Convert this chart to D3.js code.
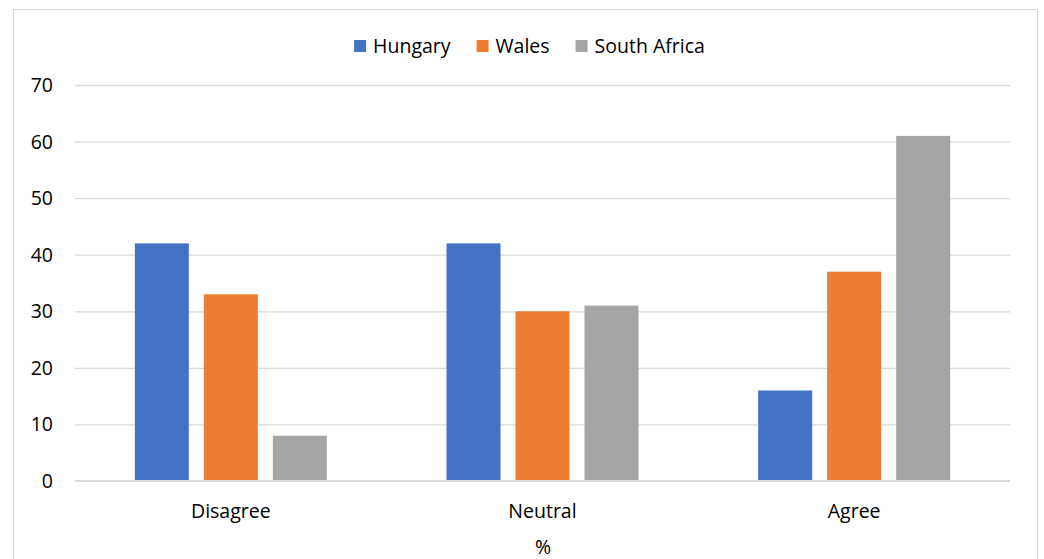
<!DOCTYPE html>
<html>
<head>
<meta charset="utf-8">
<script src="https://cdnjs.cloudflare.com/ajax/libs/d3/7.8.5/d3.min.js"></script>
<style>
  html, body { margin: 0; padding: 0; background: #ffffff; }
  svg { display: block; font-family: "Open Sans", sans-serif; }
</style>
</head>
<body>
<svg id="chart" width="1044" height="559"></svg>
<script>
// Response categories and the share (%) per country
const categories = ["Disagree", "Neutral", "Agree"];
const seriesNames = ["Hungary", "Wales", "South Africa"];
const hungary = [42, 42, 16];
const wales = [33, 30, 37];
const southAfrica = [8, 31, 61];
const yTicks = [0, 10, 20, 30, 40, 50, 60, 70];
const axisTitle = "%";

const seriesValues = [hungary, wales, southAfrica];
const colors = ["#4472c4", "#ed7d31", "#a5a5a5"];

const svg = d3.select("#chart");

// outer frame
svg.append("rect")
  .attr("x", 13.5).attr("y", 9.5)
  .attr("width", 1024).attr("height", 560)
  .attr("fill", "#ffffff")
  .attr("stroke", "#d9d9d9").attr("stroke-width", 1);

const plot = { left: 75, right: 1010, top: 85, bottom: 481 };

const y = d3.scaleLinear().domain([0, 70]).range([plot.bottom, plot.top]);
const x = d3.scaleBand().domain(categories).range([plot.left, plot.right]).padding(0);

// bars inside each category: 192px group, 15px gaps
const groupWidth = x.bandwidth() * 0.616;
const xs = d3.scaleBand().domain(seriesNames)
  .range([-groupWidth / 2, groupWidth / 2])
  .paddingInner(15 / 69).paddingOuter(0);

// gridlines
const yAxis = d3.axisLeft(y).tickValues(yTicks.filter(v => v > 0))
  .tickSize(-(plot.right - plot.left)).tickFormat("");
svg.append("g")
  .attr("transform", `translate(${plot.left},0)`)
  .call(yAxis)
  .call(g => g.select(".domain").remove())
  .call(g => g.selectAll("line").attr("stroke", "#d9d9d9").attr("stroke-width", 1.3));

// tick labels
svg.append("g").selectAll("text")
  .data(yTicks).join("text")
  .attr("x", 53)
  .attr("y", d => y(d))
  .attr("dy", "0.36em")
  .attr("text-anchor", "end")
  .attr("font-size", 19.5)
  .attr("fill", "#000000")
  .text(d => d);

// bars
const groups = svg.append("g").selectAll("g")
  .data(categories).join("g")
  .attr("transform", c => `translate(${x(c) + x.bandwidth() / 2},0)`);

groups.selectAll("rect")
  .data((c, i) => seriesNames.map((s, j) => ({ s, j, v: seriesValues[j][i] })))
  .join("rect")
  .attr("x", d => xs(d.s))
  .attr("width", xs.bandwidth())
  .attr("y", d => y(d.v))
  .attr("height", d => y(0) - y(d.v))
  .attr("fill", d => colors[d.j]);

// baseline
svg.append("line")
  .attr("x1", plot.left).attr("x2", plot.right)
  .attr("y1", y(0)).attr("y2", y(0))
  .attr("stroke", "#d9d9d9").attr("stroke-width", 2);

// category labels
svg.append("g").selectAll("text")
  .data(categories).join("text")
  .attr("x", c => x(c) + x.bandwidth() / 2)
  .attr("y", 518)
  .attr("text-anchor", "middle")
  .attr("font-size", 19.5)
  .attr("fill", "#000000")
  .text(c => c);

// axis title
svg.append("text")
  .attr("x", (plot.left + plot.right) / 2 + 0.5)
  .attr("y", 554)
  .attr("text-anchor", "middle")
  .attr("font-size", 19.5)
  .attr("fill", "#000000")
  .text(axisTitle);

// legend
const legend = svg.append("g");
const items = legend.selectAll("g").data(seriesNames).join("g");
items.append("rect")
  .attr("width", 12).attr("height", 12)
  .attr("y", 40)
  .attr("fill", (d, i) => colors[i]);
items.append("text")
  .attr("x", 19)
  .attr("y", 53)
  .attr("font-size", 19.5)
  .attr("fill", "#000000")
  .text(d => d);

let cursor = 0;
const offsets = [];
items.each(function () {
  offsets.push(cursor);
  const w = this.querySelector("text").getComputedTextLength();
  cursor += 19 + w + 26;
});
const totalW = cursor - 26;
const startX = (plot.left + plot.right) / 2 - 13 - totalW / 2;
items.attr("transform", (d, i) => `translate(${startX + offsets[i]},0)`);
</script>
</body>
</html>
